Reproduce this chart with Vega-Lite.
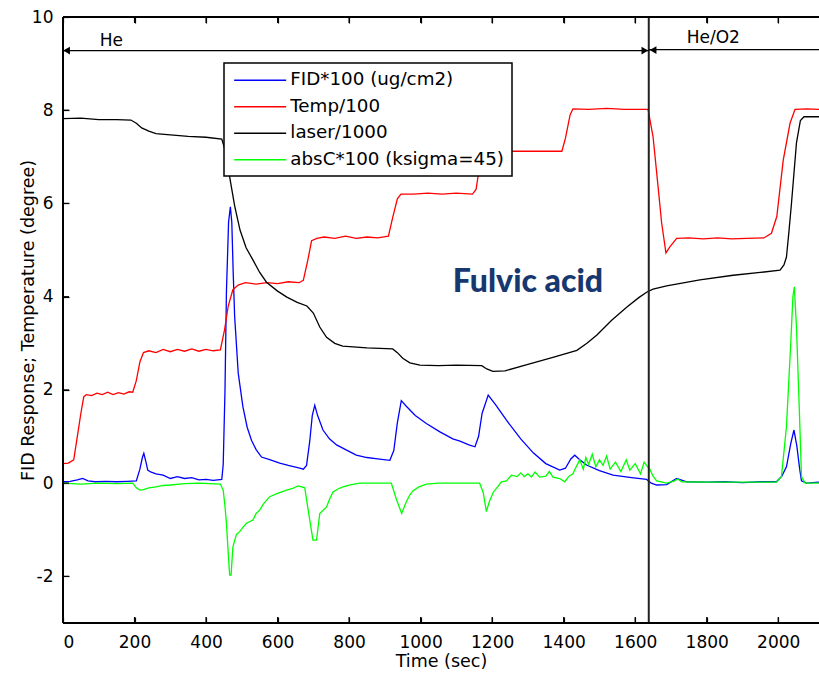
{
  "$schema": "https://vega.github.io/schema/vega-lite/v6.json",
  "width": 756,
  "height": 606,
  "autosize": {"type": "none"},
  "padding": {"left": 63, "top": 17, "right": 0, "bottom": 50},
  "config": {
    "view": {"stroke": null, "fill": null},
    "font": "DejaVu Sans",
    "axis": {
      "domain": false, "tickColor": "black", "tickWidth": 1.2, "tickSize": 6, "offset": -6, "zindex": 1,
      "labelFont": "DejaVu Sans", "labelFontSize": 17, "labelColor": "black",
      "titleFont": "DejaVu Sans", "titleFontSize": 17.5, "titleFontWeight": "normal", "titleColor": "black",
      "grid": false
    }
  },
  "datasets": {
    "curves": [
      {"s":"FID*100 (ug/cm2)","t":0,"v":0.03},{"s":"FID*100 (ug/cm2)","t":20,"v":0.04},{"s":"FID*100 (ug/cm2)","t":40,"v":0.07},{"s":"FID*100 (ug/cm2)","t":55,"v":0.1},{"s":"FID*100 (ug/cm2)","t":70,"v":0.05},{"s":"FID*100 (ug/cm2)","t":90,"v":0.03},{"s":"FID*100 (ug/cm2)","t":120,"v":0.04},{"s":"FID*100 (ug/cm2)","t":150,"v":0.03},{"s":"FID*100 (ug/cm2)","t":180,"v":0.04},{"s":"FID*100 (ug/cm2)","t":205,"v":0.05},{"s":"FID*100 (ug/cm2)","t":215,"v":0.3},{"s":"FID*100 (ug/cm2)","t":222,"v":0.55},{"s":"FID*100 (ug/cm2)","t":226,"v":0.64},{"s":"FID*100 (ug/cm2)","t":232,"v":0.45},{"s":"FID*100 (ug/cm2)","t":237,"v":0.28},{"s":"FID*100 (ug/cm2)","t":245,"v":0.24},{"s":"FID*100 (ug/cm2)","t":260,"v":0.2},{"s":"FID*100 (ug/cm2)","t":280,"v":0.17},{"s":"FID*100 (ug/cm2)","t":300,"v":0.1},{"s":"FID*100 (ug/cm2)","t":320,"v":0.14},{"s":"FID*100 (ug/cm2)","t":340,"v":0.1},{"s":"FID*100 (ug/cm2)","t":360,"v":0.12},{"s":"FID*100 (ug/cm2)","t":380,"v":0.07},{"s":"FID*100 (ug/cm2)","t":400,"v":0.08},{"s":"FID*100 (ug/cm2)","t":420,"v":0.06},{"s":"FID*100 (ug/cm2)","t":444,"v":0.08},{"s":"FID*100 (ug/cm2)","t":448,"v":0.4},{"s":"FID*100 (ug/cm2)","t":453,"v":2.0},{"s":"FID*100 (ug/cm2)","t":457,"v":4.1},{"s":"FID*100 (ug/cm2)","t":463,"v":5.6},{"s":"FID*100 (ug/cm2)","t":468,"v":5.93},{"s":"FID*100 (ug/cm2)","t":472,"v":5.6},{"s":"FID*100 (ug/cm2)","t":476,"v":4.5},{"s":"FID*100 (ug/cm2)","t":480,"v":3.57},{"s":"FID*100 (ug/cm2)","t":490,"v":2.36},{"s":"FID*100 (ug/cm2)","t":503,"v":1.64},{"s":"FID*100 (ug/cm2)","t":515,"v":1.2},{"s":"FID*100 (ug/cm2)","t":527,"v":0.92},{"s":"FID*100 (ug/cm2)","t":540,"v":0.72},{"s":"FID*100 (ug/cm2)","t":555,"v":0.56},{"s":"FID*100 (ug/cm2)","t":580,"v":0.5},{"s":"FID*100 (ug/cm2)","t":606,"v":0.43},{"s":"FID*100 (ug/cm2)","t":630,"v":0.38},{"s":"FID*100 (ug/cm2)","t":662,"v":0.32},{"s":"FID*100 (ug/cm2)","t":672,"v":0.3},{"s":"FID*100 (ug/cm2)","t":681,"v":0.38},{"s":"FID*100 (ug/cm2)","t":690,"v":0.9},{"s":"FID*100 (ug/cm2)","t":697,"v":1.45},{"s":"FID*100 (ug/cm2)","t":704,"v":1.67},{"s":"FID*100 (ug/cm2)","t":712,"v":1.45},{"s":"FID*100 (ug/cm2)","t":727,"v":1.14},{"s":"FID*100 (ug/cm2)","t":745,"v":0.95},{"s":"FID*100 (ug/cm2)","t":765,"v":0.82},{"s":"FID*100 (ug/cm2)","t":793,"v":0.71},{"s":"FID*100 (ug/cm2)","t":820,"v":0.6},{"s":"FID*100 (ug/cm2)","t":850,"v":0.55},{"s":"FID*100 (ug/cm2)","t":880,"v":0.52},{"s":"FID*100 (ug/cm2)","t":914,"v":0.49},{"s":"FID*100 (ug/cm2)","t":925,"v":0.7},{"s":"FID*100 (ug/cm2)","t":935,"v":1.3},{"s":"FID*100 (ug/cm2)","t":946,"v":1.77},{"s":"FID*100 (ug/cm2)","t":960,"v":1.65},{"s":"FID*100 (ug/cm2)","t":985,"v":1.45},{"s":"FID*100 (ug/cm2)","t":1016,"v":1.28},{"s":"FID*100 (ug/cm2)","t":1054,"v":1.1},{"s":"FID*100 (ug/cm2)","t":1090,"v":0.95},{"s":"FID*100 (ug/cm2)","t":1110,"v":0.9},{"s":"FID*100 (ug/cm2)","t":1135,"v":0.82},{"s":"FID*100 (ug/cm2)","t":1152,"v":0.78},{"s":"FID*100 (ug/cm2)","t":1162,"v":1.0},{"s":"FID*100 (ug/cm2)","t":1172,"v":1.5},{"s":"FID*100 (ug/cm2)","t":1189,"v":1.89},{"s":"FID*100 (ug/cm2)","t":1210,"v":1.68},{"s":"FID*100 (ug/cm2)","t":1240,"v":1.35},{"s":"FID*100 (ug/cm2)","t":1280,"v":0.95},{"s":"FID*100 (ug/cm2)","t":1315,"v":0.65},{"s":"FID*100 (ug/cm2)","t":1350,"v":0.42},{"s":"FID*100 (ug/cm2)","t":1389,"v":0.28},{"s":"FID*100 (ug/cm2)","t":1405,"v":0.32},{"s":"FID*100 (ug/cm2)","t":1420,"v":0.52},{"s":"FID*100 (ug/cm2)","t":1431,"v":0.6},{"s":"FID*100 (ug/cm2)","t":1445,"v":0.5},{"s":"FID*100 (ug/cm2)","t":1464,"v":0.39},{"s":"FID*100 (ug/cm2)","t":1500,"v":0.27},{"s":"FID*100 (ug/cm2)","t":1538,"v":0.17},{"s":"FID*100 (ug/cm2)","t":1590,"v":0.12},{"s":"FID*100 (ug/cm2)","t":1632,"v":0.08},{"s":"FID*100 (ug/cm2)","t":1645,"v":0.0},{"s":"FID*100 (ug/cm2)","t":1660,"v":-0.04},{"s":"FID*100 (ug/cm2)","t":1688,"v":-0.03},{"s":"FID*100 (ug/cm2)","t":1705,"v":0.05},{"s":"FID*100 (ug/cm2)","t":1716,"v":0.1},{"s":"FID*100 (ug/cm2)","t":1744,"v":0.03},{"s":"FID*100 (ug/cm2)","t":1800,"v":0.02},{"s":"FID*100 (ug/cm2)","t":1850,"v":0.03},{"s":"FID*100 (ug/cm2)","t":1900,"v":0.01},{"s":"FID*100 (ug/cm2)","t":1950,"v":0.03},{"s":"FID*100 (ug/cm2)","t":1995,"v":0.03},{"s":"FID*100 (ug/cm2)","t":2010,"v":0.15},{"s":"FID*100 (ug/cm2)","t":2023,"v":0.35},{"s":"FID*100 (ug/cm2)","t":2035,"v":0.85},{"s":"FID*100 (ug/cm2)","t":2044,"v":1.14},{"s":"FID*100 (ug/cm2)","t":2052,"v":0.8},{"s":"FID*100 (ug/cm2)","t":2060,"v":0.3},{"s":"FID*100 (ug/cm2)","t":2065,"v":0.05},{"s":"FID*100 (ug/cm2)","t":2079,"v":0.0},{"s":"FID*100 (ug/cm2)","t":2114,"v":0.02},

      {"s":"Temp/100","t":0,"v":0.42},{"s":"Temp/100","t":15,"v":0.43},{"s":"Temp/100","t":30,"v":0.5},{"s":"Temp/100","t":40,"v":1.0},{"s":"Temp/100","t":50,"v":1.5},{"s":"Temp/100","t":58,"v":1.85},{"s":"Temp/100","t":65,"v":1.9},{"s":"Temp/100","t":80,"v":1.88},{"s":"Temp/100","t":95,"v":1.93},{"s":"Temp/100","t":110,"v":1.9},{"s":"Temp/100","t":125,"v":1.95},{"s":"Temp/100","t":140,"v":1.9},{"s":"Temp/100","t":155,"v":1.94},{"s":"Temp/100","t":170,"v":1.91},{"s":"Temp/100","t":185,"v":1.96},{"s":"Temp/100","t":195,"v":1.95},{"s":"Temp/100","t":205,"v":2.2},{"s":"Temp/100","t":215,"v":2.6},{"s":"Temp/100","t":225,"v":2.8},{"s":"Temp/100","t":240,"v":2.84},{"s":"Temp/100","t":260,"v":2.8},{"s":"Temp/100","t":280,"v":2.87},{"s":"Temp/100","t":300,"v":2.82},{"s":"Temp/100","t":320,"v":2.87},{"s":"Temp/100","t":340,"v":2.83},{"s":"Temp/100","t":360,"v":2.88},{"s":"Temp/100","t":380,"v":2.83},{"s":"Temp/100","t":400,"v":2.87},{"s":"Temp/100","t":420,"v":2.84},{"s":"Temp/100","t":440,"v":2.86},{"s":"Temp/100","t":452,"v":3.3},{"s":"Temp/100","t":462,"v":3.8},{"s":"Temp/100","t":475,"v":4.15},{"s":"Temp/100","t":490,"v":4.25},{"s":"Temp/100","t":510,"v":4.3},{"s":"Temp/100","t":540,"v":4.27},{"s":"Temp/100","t":570,"v":4.3},{"s":"Temp/100","t":600,"v":4.28},{"s":"Temp/100","t":630,"v":4.32},{"s":"Temp/100","t":660,"v":4.3},{"s":"Temp/100","t":672,"v":4.35},{"s":"Temp/100","t":685,"v":4.8},{"s":"Temp/100","t":695,"v":5.2},{"s":"Temp/100","t":710,"v":5.25},{"s":"Temp/100","t":730,"v":5.28},{"s":"Temp/100","t":760,"v":5.25},{"s":"Temp/100","t":790,"v":5.3},{"s":"Temp/100","t":820,"v":5.25},{"s":"Temp/100","t":850,"v":5.28},{"s":"Temp/100","t":880,"v":5.26},{"s":"Temp/100","t":910,"v":5.3},{"s":"Temp/100","t":922,"v":5.7},{"s":"Temp/100","t":935,"v":6.1},{"s":"Temp/100","t":945,"v":6.2},{"s":"Temp/100","t":980,"v":6.2},{"s":"Temp/100","t":1020,"v":6.22},{"s":"Temp/100","t":1060,"v":6.2},{"s":"Temp/100","t":1100,"v":6.22},{"s":"Temp/100","t":1145,"v":6.2},{"s":"Temp/100","t":1155,"v":6.3},{"s":"Temp/100","t":1165,"v":6.8},{"s":"Temp/100","t":1178,"v":7.1},{"s":"Temp/100","t":1200,"v":7.12},{"s":"Temp/100","t":1300,"v":7.12},{"s":"Temp/100","t":1395,"v":7.12},{"s":"Temp/100","t":1405,"v":7.4},{"s":"Temp/100","t":1418,"v":7.9},{"s":"Temp/100","t":1426,"v":8.03},{"s":"Temp/100","t":1470,"v":8.02},{"s":"Temp/100","t":1520,"v":8.04},{"s":"Temp/100","t":1570,"v":8.02},{"s":"Temp/100","t":1636,"v":8.02},{"s":"Temp/100","t":1650,"v":7.43},{"s":"Temp/100","t":1664,"v":6.36},{"s":"Temp/100","t":1674,"v":5.58},{"s":"Temp/100","t":1686,"v":4.94},{"s":"Temp/100","t":1697,"v":5.07},{"s":"Temp/100","t":1716,"v":5.25},{"s":"Temp/100","t":1750,"v":5.26},{"s":"Temp/100","t":1790,"v":5.24},{"s":"Temp/100","t":1830,"v":5.26},{"s":"Temp/100","t":1870,"v":5.24},{"s":"Temp/100","t":1910,"v":5.25},{"s":"Temp/100","t":1960,"v":5.26},{"s":"Temp/100","t":1981,"v":5.36},{"s":"Temp/100","t":1996,"v":5.72},{"s":"Temp/100","t":2014,"v":6.93},{"s":"Temp/100","t":2033,"v":7.72},{"s":"Temp/100","t":2047,"v":8.02},{"s":"Temp/100","t":2080,"v":8.03},{"s":"Temp/100","t":2114,"v":8.02},

      {"s":"laser/1000","t":0,"v":7.82},{"s":"laser/1000","t":50,"v":7.83},{"s":"laser/1000","t":100,"v":7.8},{"s":"laser/1000","t":150,"v":7.8},{"s":"laser/1000","t":190,"v":7.79},{"s":"laser/1000","t":205,"v":7.72},{"s":"laser/1000","t":220,"v":7.62},{"s":"laser/1000","t":240,"v":7.55},{"s":"laser/1000","t":260,"v":7.5},{"s":"laser/1000","t":300,"v":7.47},{"s":"laser/1000","t":350,"v":7.44},{"s":"laser/1000","t":400,"v":7.42},{"s":"laser/1000","t":444,"v":7.38},{"s":"laser/1000","t":455,"v":7.1},{"s":"laser/1000","t":466,"v":6.57},{"s":"laser/1000","t":480,"v":5.95},{"s":"laser/1000","t":495,"v":5.43},{"s":"laser/1000","t":512,"v":5.05},{"s":"laser/1000","t":531,"v":4.79},{"s":"laser/1000","t":550,"v":4.52},{"s":"laser/1000","t":569,"v":4.31},{"s":"laser/1000","t":600,"v":4.12},{"s":"laser/1000","t":626,"v":3.99},{"s":"laser/1000","t":655,"v":3.88},{"s":"laser/1000","t":682,"v":3.8},{"s":"laser/1000","t":700,"v":3.65},{"s":"laser/1000","t":718,"v":3.35},{"s":"laser/1000","t":737,"v":3.13},{"s":"laser/1000","t":760,"v":3.0},{"s":"laser/1000","t":782,"v":2.94},{"s":"laser/1000","t":850,"v":2.9},{"s":"laser/1000","t":922,"v":2.88},{"s":"laser/1000","t":935,"v":2.8},{"s":"laser/1000","t":950,"v":2.68},{"s":"laser/1000","t":970,"v":2.58},{"s":"laser/1000","t":998,"v":2.53},{"s":"laser/1000","t":1050,"v":2.52},{"s":"laser/1000","t":1100,"v":2.53},{"s":"laser/1000","t":1171,"v":2.52},{"s":"laser/1000","t":1185,"v":2.45},{"s":"laser/1000","t":1202,"v":2.4},{"s":"laser/1000","t":1236,"v":2.41},{"s":"laser/1000","t":1300,"v":2.55},{"s":"laser/1000","t":1370,"v":2.7},{"s":"laser/1000","t":1437,"v":2.85},{"s":"laser/1000","t":1465,"v":3.0},{"s":"laser/1000","t":1493,"v":3.18},{"s":"laser/1000","t":1535,"v":3.5},{"s":"laser/1000","t":1577,"v":3.78},{"s":"laser/1000","t":1610,"v":3.98},{"s":"laser/1000","t":1633,"v":4.1},{"s":"laser/1000","t":1650,"v":4.16},{"s":"laser/1000","t":1688,"v":4.23},{"s":"laser/1000","t":1781,"v":4.36},{"s":"laser/1000","t":1874,"v":4.46},{"s":"laser/1000","t":1950,"v":4.52},{"s":"laser/1000","t":2005,"v":4.57},{"s":"laser/1000","t":2016,"v":4.68},{"s":"laser/1000","t":2023,"v":4.85},{"s":"laser/1000","t":2030,"v":5.4},{"s":"laser/1000","t":2037,"v":6.0},{"s":"laser/1000","t":2051,"v":7.3},{"s":"laser/1000","t":2062,"v":7.78},{"s":"laser/1000","t":2072,"v":7.86},{"s":"laser/1000","t":2114,"v":7.86},

      {"s":"absC*100 (ksigma=45)","t":0,"v":0.0},{"s":"absC*100 (ksigma=45)","t":50,"v":-0.02},{"s":"absC*100 (ksigma=45)","t":100,"v":0.0},{"s":"absC*100 (ksigma=45)","t":150,"v":-0.01},{"s":"absC*100 (ksigma=45)","t":195,"v":0.0},{"s":"absC*100 (ksigma=45)","t":205,"v":-0.1},{"s":"absC*100 (ksigma=45)","t":215,"v":-0.15},{"s":"absC*100 (ksigma=45)","t":225,"v":-0.14},{"s":"absC*100 (ksigma=45)","t":240,"v":-0.1},{"s":"absC*100 (ksigma=45)","t":260,"v":-0.08},{"s":"absC*100 (ksigma=45)","t":280,"v":-0.05},{"s":"absC*100 (ksigma=45)","t":300,"v":-0.04},{"s":"absC*100 (ksigma=45)","t":340,"v":-0.01},{"s":"absC*100 (ksigma=45)","t":380,"v":0.0},{"s":"absC*100 (ksigma=45)","t":440,"v":-0.02},{"s":"absC*100 (ksigma=45)","t":448,"v":-0.15},{"s":"absC*100 (ksigma=45)","t":453,"v":-0.5},{"s":"absC*100 (ksigma=45)","t":457,"v":-0.86},{"s":"absC*100 (ksigma=45)","t":462,"v":-1.5},{"s":"absC*100 (ksigma=45)","t":466,"v":-1.97},{"s":"absC*100 (ksigma=45)","t":470,"v":-1.97},{"s":"absC*100 (ksigma=45)","t":475,"v":-1.37},{"s":"absC*100 (ksigma=45)","t":485,"v":-1.1},{"s":"absC*100 (ksigma=45)","t":494,"v":-1.04},{"s":"absC*100 (ksigma=45)","t":503,"v":-0.95},{"s":"absC*100 (ksigma=45)","t":513,"v":-0.86},{"s":"absC*100 (ksigma=45)","t":531,"v":-0.79},{"s":"absC*100 (ksigma=45)","t":540,"v":-0.65},{"s":"absC*100 (ksigma=45)","t":550,"v":-0.58},{"s":"absC*100 (ksigma=45)","t":560,"v":-0.45},{"s":"absC*100 (ksigma=45)","t":578,"v":-0.29},{"s":"absC*100 (ksigma=45)","t":600,"v":-0.22},{"s":"absC*100 (ksigma=45)","t":625,"v":-0.15},{"s":"absC*100 (ksigma=45)","t":640,"v":-0.12},{"s":"absC*100 (ksigma=45)","t":657,"v":-0.06},{"s":"absC*100 (ksigma=45)","t":676,"v":-0.1},{"s":"absC*100 (ksigma=45)","t":690,"v":-0.79},{"s":"absC*100 (ksigma=45)","t":699,"v":-1.22},{"s":"absC*100 (ksigma=45)","t":709,"v":-1.22},{"s":"absC*100 (ksigma=45)","t":718,"v":-0.65},{"s":"absC*100 (ksigma=45)","t":737,"v":-0.51},{"s":"absC*100 (ksigma=45)","t":745,"v":-0.35},{"s":"absC*100 (ksigma=45)","t":755,"v":-0.19},{"s":"absC*100 (ksigma=45)","t":770,"v":-0.12},{"s":"absC*100 (ksigma=45)","t":783,"v":-0.08},{"s":"absC*100 (ksigma=45)","t":800,"v":-0.04},{"s":"absC*100 (ksigma=45)","t":830,"v":0.0},{"s":"absC*100 (ksigma=45)","t":918,"v":0.0},{"s":"absC*100 (ksigma=45)","t":933,"v":-0.36},{"s":"absC*100 (ksigma=45)","t":947,"v":-0.65},{"s":"absC*100 (ksigma=45)","t":960,"v":-0.4},{"s":"absC*100 (ksigma=45)","t":970,"v":-0.25},{"s":"absC*100 (ksigma=45)","t":979,"v":-0.16},{"s":"absC*100 (ksigma=45)","t":995,"v":-0.08},{"s":"absC*100 (ksigma=45)","t":1016,"v":-0.02},{"s":"absC*100 (ksigma=45)","t":1050,"v":0.0},{"s":"absC*100 (ksigma=45)","t":1165,"v":0.0},{"s":"absC*100 (ksigma=45)","t":1175,"v":-0.2},{"s":"absC*100 (ksigma=45)","t":1184,"v":-0.61},{"s":"absC*100 (ksigma=45)","t":1192,"v":-0.4},{"s":"absC*100 (ksigma=45)","t":1203,"v":-0.2},{"s":"absC*100 (ksigma=45)","t":1226,"v":0.03},{"s":"absC*100 (ksigma=45)","t":1240,"v":0.05},{"s":"absC*100 (ksigma=45)","t":1254,"v":0.17},{"s":"absC*100 (ksigma=45)","t":1270,"v":0.14},{"s":"absC*100 (ksigma=45)","t":1280,"v":0.22},{"s":"absC*100 (ksigma=45)","t":1290,"v":0.14},{"s":"absC*100 (ksigma=45)","t":1300,"v":0.2},{"s":"absC*100 (ksigma=45)","t":1310,"v":0.13},{"s":"absC*100 (ksigma=45)","t":1320,"v":0.24},{"s":"absC*100 (ksigma=45)","t":1333,"v":0.13},{"s":"absC*100 (ksigma=45)","t":1350,"v":0.15},{"s":"absC*100 (ksigma=45)","t":1360,"v":0.25},{"s":"absC*100 (ksigma=45)","t":1370,"v":0.13},{"s":"absC*100 (ksigma=45)","t":1389,"v":0.1},{"s":"absC*100 (ksigma=45)","t":1403,"v":0.03},{"s":"absC*100 (ksigma=45)","t":1415,"v":0.15},{"s":"absC*100 (ksigma=45)","t":1426,"v":0.2},{"s":"absC*100 (ksigma=45)","t":1435,"v":0.35},{"s":"absC*100 (ksigma=45)","t":1445,"v":0.5},{"s":"absC*100 (ksigma=45)","t":1455,"v":0.3},{"s":"absC*100 (ksigma=45)","t":1462,"v":0.55},{"s":"absC*100 (ksigma=45)","t":1470,"v":0.4},{"s":"absC*100 (ksigma=45)","t":1480,"v":0.62},{"s":"absC*100 (ksigma=45)","t":1490,"v":0.35},{"s":"absC*100 (ksigma=45)","t":1500,"v":0.5},{"s":"absC*100 (ksigma=45)","t":1510,"v":0.38},{"s":"absC*100 (ksigma=45)","t":1520,"v":0.58},{"s":"absC*100 (ksigma=45)","t":1530,"v":0.3},{"s":"absC*100 (ksigma=45)","t":1545,"v":0.45},{"s":"absC*100 (ksigma=45)","t":1560,"v":0.25},{"s":"absC*100 (ksigma=45)","t":1575,"v":0.5},{"s":"absC*100 (ksigma=45)","t":1585,"v":0.28},{"s":"absC*100 (ksigma=45)","t":1600,"v":0.42},{"s":"absC*100 (ksigma=45)","t":1615,"v":0.2},{"s":"absC*100 (ksigma=45)","t":1625,"v":0.45},{"s":"absC*100 (ksigma=45)","t":1635,"v":0.35},{"s":"absC*100 (ksigma=45)","t":1641,"v":0.3},{"s":"absC*100 (ksigma=45)","t":1650,"v":0.15},{"s":"absC*100 (ksigma=45)","t":1660,"v":0.05},{"s":"absC*100 (ksigma=45)","t":1688,"v":0.0},{"s":"absC*100 (ksigma=45)","t":1710,"v":0.05},{"s":"absC*100 (ksigma=45)","t":1719,"v":0.09},{"s":"absC*100 (ksigma=45)","t":1730,"v":0.03},{"s":"absC*100 (ksigma=45)","t":1800,"v":0.02},{"s":"absC*100 (ksigma=45)","t":1900,"v":0.02},{"s":"absC*100 (ksigma=45)","t":1995,"v":0.02},{"s":"absC*100 (ksigma=45)","t":2009,"v":0.14},{"s":"absC*100 (ksigma=45)","t":2023,"v":1.21},{"s":"absC*100 (ksigma=45)","t":2035,"v":3.0},{"s":"absC*100 (ksigma=45)","t":2041,"v":4.0},{"s":"absC*100 (ksigma=45)","t":2045,"v":4.21},{"s":"absC*100 (ksigma=45)","t":2051,"v":3.35},{"s":"absC*100 (ksigma=45)","t":2059,"v":1.57},{"s":"absC*100 (ksigma=45)","t":2065,"v":0.14},{"s":"absC*100 (ksigma=45)","t":2075,"v":0.0},{"s":"absC*100 (ksigma=45)","t":2114,"v":0.0}
    ],
    "spans": [
      {"t": 0, "t2": 1638, "v": 9.28},
      {"t": 1638, "t2": 2114, "v": 9.3}
    ],
    "heads": [
      {"t": 10, "v": 9.28, "dir": "left"},
      {"t": 1627, "v": 9.28, "dir": "right"},
      {"t": 1650, "v": 9.29, "dir": "left"}
    ],
    "labels": [
      {"t": 103, "v": 9.48, "label": "He"},
      {"t": 1744, "v": 9.56, "label": "He/O2"}
    ],
    "marker": [{"t": 1638}],
    "frameX": [{"t": 0}],
    "frameY": [{"v": -3}, {"v": 10}],
    "xticks": [{"t": 200}, {"t": 400}, {"t": 600}, {"t": 800}, {"t": 1000}, {"t": 1200}, {"t": 1400}, {"t": 1600}, {"t": 1800}, {"t": 2000}],
    "yticks": [{"v": -2}, {"v": 0}, {"v": 2}, {"v": 4}, {"v": 6}, {"v": 8}],
    "title": [{"t": 1300, "v": 4.32, "label": "Fulvic acid"}]
  },
  "layer": [
    {
      "data": {"name": "curves"},
      "mark": {"type": "line", "strokeWidth": 1.3, "clip": true},
      "encoding": {
        "x": {"field": "t", "type": "quantitative", "scale": {"domain": [0, 2114], "nice": false},
          "axis": {"orient": "bottom", "values": [0,200,400,600,800,1000,1200,1400,1600,1800,2000], "title": "Time (sec)", "labelPadding": 11, "titlePadding": 2, "format": "d"}},
        "y": {"field": "v", "type": "quantitative", "scale": {"domain": [-3, 10], "nice": false},
          "axis": {"orient": "left", "values": [-2,0,2,4,6,8,10], "title": "FID Response; Temperature (degree)", "labelPadding": 10, "titlePadding": -6, "labelExpr": "datum.value + ''"}},
        "color": {"field": "s", "type": "nominal",
          "scale": {"domain": ["FID*100 (ug/cm2)", "Temp/100", "laser/1000", "absC*100 (ksigma=45)"], "range": ["#0000FF", "#FF0000", "#000000", "#00FF00"]},
          "legend": {"orient": "none", "legendX": 161, "legendY": 46, "title": null, "symbolType": "M-4,0H4", "symbolSize": 169, "symbolStrokeWidth": 1.5, "symbolOffset": 19, "labelFontSize": 18.3, "labelFont": "DejaVu Sans", "labelColor": "black", "fillColor": "white", "strokeColor": "black", "padding": 8, "rowPadding": 7.5, "labelOffset": 21, "labelLimit": 400,
            "encode": {"legend": {"update": {"strokeWidth": {"value": 1.5}}}}}}
      }
    },
    {
      "data": {"name": "marker"},
      "mark": {"type": "rule", "color": "#222222", "strokeWidth": 2},
      "encoding": {
        "x": {"field": "t", "type": "quantitative", "axis": {"orient": "top", "values": [0,200,400,600,800,1000,1200,1400,1600,1800,2000], "labels": false, "title": null}}
      }
    },
    {
      "data": {"name": "frameX"},
      "mark": {"type": "rule", "color": "black", "strokeWidth": 2},
      "encoding": {
        "x": {"field": "t", "type": "quantitative", "axis": null}
      }
    },
    {
      "data": {"name": "frameY"},
      "mark": {"type": "rule", "color": "black", "strokeWidth": 2},
      "encoding": {
        "y": {"field": "v", "type": "quantitative"}
      }
    },
    {
      "data": {"name": "xticks"},
      "mark": {"type": "tick", "orient": "vertical", "color": "black", "size": 6, "thickness": 1.2, "yOffset": -3, "opacity": 1},
      "encoding": {
        "x": {"field": "t", "type": "quantitative", "axis": null},
        "y": {"datum": -3, "type": "quantitative"}
      }
    },
    {
      "data": {"name": "xticks"},
      "mark": {"type": "tick", "orient": "vertical", "color": "black", "size": 6, "thickness": 1.2, "yOffset": 3, "opacity": 1},
      "encoding": {
        "x": {"field": "t", "type": "quantitative", "axis": null},
        "y": {"datum": 10, "type": "quantitative"}
      }
    },
    {
      "data": {"name": "yticks"},
      "mark": {"type": "tick", "orient": "horizontal", "color": "black", "size": 6, "thickness": 1.2, "xOffset": 3, "opacity": 1},
      "encoding": {
        "x": {"datum": 0, "type": "quantitative", "axis": null},
        "y": {"field": "v", "type": "quantitative"}
      }
    },
    {
      "data": {"name": "spans"},
      "mark": {"type": "rule", "color": "black", "strokeWidth": 1.3},
      "encoding": {
        "x": {"field": "t", "type": "quantitative", "axis": null},
        "x2": {"field": "t2"},
        "y": {"field": "v", "type": "quantitative"}
      }
    },
    {
      "data": {"name": "heads"},
      "mark": {"type": "point", "filled": true, "color": "black", "size": 60, "opacity": 1},
      "encoding": {
        "x": {"field": "t", "type": "quantitative", "axis": null},
        "y": {"field": "v", "type": "quantitative"},
        "shape": {"field": "dir", "type": "nominal", "scale": {"domain": ["left", "right"], "range": ["triangle-left", "triangle-right"]}, "legend": null}
      }
    },
    {
      "data": {"name": "labels"},
      "mark": {"type": "text", "align": "left", "baseline": "middle", "fontSize": 17, "font": "DejaVu Sans", "color": "black"},
      "encoding": {
        "x": {"field": "t", "type": "quantitative", "axis": null},
        "y": {"field": "v", "type": "quantitative"},
        "text": {"field": "label"}
      }
    },
    {
      "data": {"name": "title"},
      "mark": {"type": "text", "align": "center", "baseline": "middle", "fontSize": 32, "font": "Lato", "fontWeight": 900, "color": "#17376F"},
      "encoding": {
        "x": {"field": "t", "type": "quantitative", "axis": null},
        "y": {"field": "v", "type": "quantitative"},
        "text": {"field": "label"}
      }
    }
  ]
}
